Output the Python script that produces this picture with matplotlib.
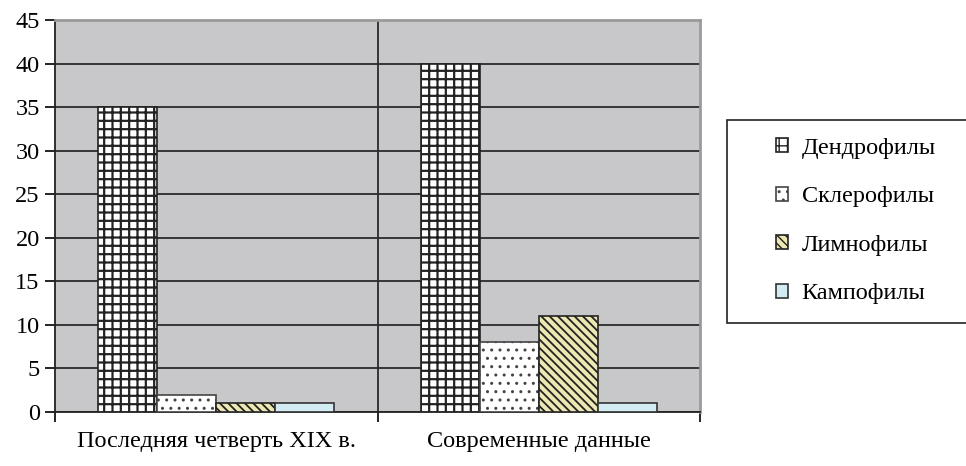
import matplotlib
matplotlib.use("Agg")
import matplotlib.pyplot as plt
from matplotlib.patches import Rectangle
import numpy as np

# data
categories = ["Последняя четверть XIX в.", "Современные данные"]
series = ["Дендрофилы", "Склерофилы", "Лимнофилы", "Кампофилы"]
dendro = [35, 40]
sklero = [2, 8]
limno = [1, 11]
kampo = [1, 1]

values = [dendro, sklero, limno, kampo]
fills = ["white", "white", "#ece8b4", "#d3ecf3"]
hatches = ["++", "..", chr(92) * 4, None]
hatch_lw = [1.6, 1.0, 1.3, 1.0]
edges = ["#222222", "#444444", "#222222", "#333333"]

plt.rcParams["font.family"] = ["Liberation Serif", "DejaVu Serif"]
fs = 17.5

fig = plt.figure(figsize=(9.66, 4.66), dpi=100)
ax = fig.add_axes([55 / 966, 54 / 466, 645 / 966, 392 / 466])
ax.set_facecolor("#c8c8ca")

x = np.arange(len(categories))
w = 0.183
offsets = (np.arange(len(series)) - 1.5) * w
handles = []
for i, name in enumerate(series):
    plt.rcParams["hatch.linewidth"] = hatch_lw[i]
    b = ax.bar(x + offsets[i], values[i], width=w, color=fills[i],
               edgecolor=edges[i], hatch=hatches[i], linewidth=1.2,
               label=name, zorder=3)
    handles.append(b)

ax.set_xlim(-0.5, 1.5)
ax.set_ylim(0, 45)
ax.set_yticks(np.arange(0, 46, 5))
ax.yaxis.grid(True, color="#2a2a2a", linewidth=1.3, zorder=1)
ax.axvline(0.5, color="#2a2a2a", linewidth=1.3, zorder=1)
ax.set_axisbelow(True)

ax.set_xticks([-0.5, 0.5, 1.5])
ax.set_xticklabels([])
ax.set_xticks(x, minor=True)
ax.set_xticklabels(categories, minor=True, fontsize=fs)
ax.tick_params(axis="x", which="minor", length=0, pad=14)
ax.tick_params(axis="x", which="major", length=7, width=1.2, direction="out")
ax.tick_params(axis="y", length=7, width=1.2, direction="out", labelsize=fs, pad=4)

for s in ["left", "bottom"]:
    ax.spines[s].set_color("#222222")
    ax.spines[s].set_linewidth(1.3)
for s in ["top", "right"]:
    ax.spines[s].set_color("#9a9a9a")
    ax.spines[s].set_linewidth(2)

# legend box, runs off the right edge like in the original
fig.patches.append(Rectangle((727 / 966, 1 - 323 / 466), 250 / 966, 203 / 466,
                             transform=fig.transFigure, facecolor="white",
                             edgecolor="#222222", linewidth=1.2, zorder=0))
leg = fig.legend(handles=handles, labels=series, loc="upper left",
                 bbox_to_anchor=(776 / 966, 1 - 138 / 466),
                 fontsize=fs, frameon=False, handlelength=0.5, handleheight=0.5,
                 handletextpad=0.55, labelspacing=1.13, borderpad=0,
                 borderaxespad=0)

fig.savefig("out.png", dpi=100)
